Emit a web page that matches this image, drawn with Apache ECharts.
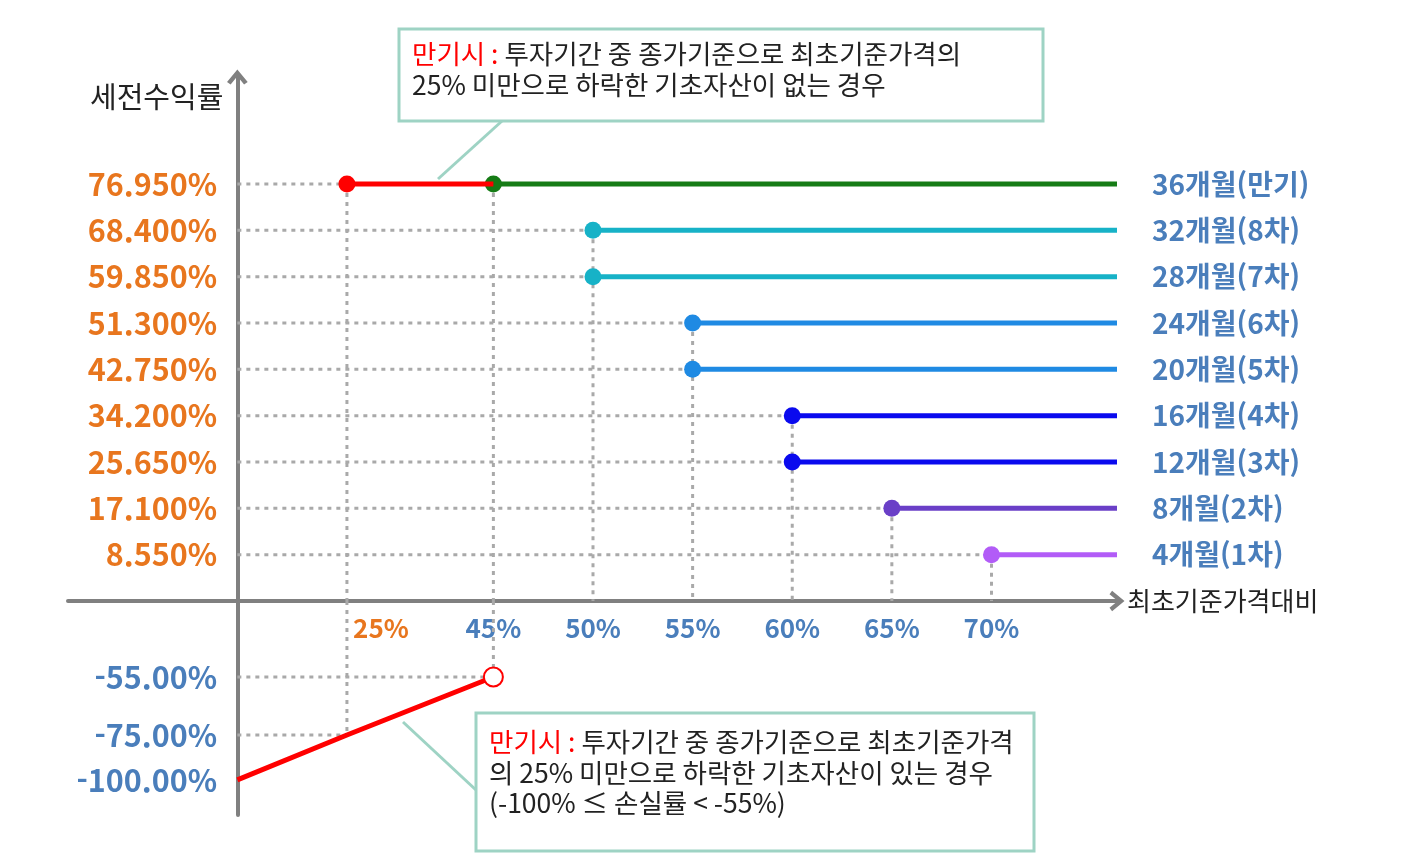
<!DOCTYPE html>
<html lang="ko">
<head>
<meta charset="UTF-8">
<title>세전수익률</title>
<style>
  html, body { margin: 0; padding: 0; background: #fff; }
  #main { width: 1408px; height: 858px; }
</style>
</head>
<body>
<div id="main"></div>
<script src="https://cdn.jsdelivr.net/npm/echarts@6.0.0/dist/echarts.min.js"></script>
<script>
// 조기상환 시점별 수익률 / 배리어
var periodNames = ['4개월(1차)', '8개월(2차)', '12개월(3차)', '16개월(4차)', '20개월(5차)',
                   '24개월(6차)', '28개월(7차)', '32개월(8차)', '36개월(만기)'];
var couponReturns = [8.55, 17.1, 25.65, 34.2, 42.75, 51.3, 59.85, 68.4, 76.95];
var earlyBarriers = [70, 65, 60, 60, 55, 55, 50, 50, 45];
var kiBarrier = 25;                                 // 만기시 낙인 배리어
var lossCurve = [[0, -100], [25, -75], [45, -55]];  // 낙인 발생 시 손실
var xTickValues = [25, 45, 50, 55, 60, 65, 70];
var xEnd = 76.3;

var lineColors = ['#b25cf7', '#6a3fc7', '#0a0aee', '#0a0aee', '#1f8ae3',
                  '#1f8ae3', '#17b2c7', '#17b2c7', '#167c16'];
var ORANGE = '#e8761e', BLUE = '#4a7ebb', GRAY = '#808080', FONT = 'Noto Sans CJK KR';
var LOWER_TOP = -28.8;

var chart = echarts.init(document.getElementById('main'));

function guide(data, grid) {
    return {
        type: 'line', xAxisIndex: grid, yAxisIndex: grid, data: data,
        symbol: 'none', silent: true, z: 1,
        lineStyle: { color: '#a9a9a9', width: 3, type: [4, 5] }
    };
}

var series = [];
var last = periodNames.length - 1;

// 수평 점선
couponReturns.forEach(function (r, i) {
    series.push(guide([[0, r], [i === last ? kiBarrier : earlyBarriers[i], r]], 0));
});
// 수직 점선 (배리어별 최고 수익률에서 0까지)
var topByBarrier = {};
earlyBarriers.forEach(function (b, i) {
    topByBarrier[b] = Math.max(topByBarrier[b] || 0, couponReturns[i]);
});
topByBarrier[kiBarrier] = couponReturns[last];
Object.keys(topByBarrier).forEach(function (b) {
    series.push(guide([[+b, topByBarrier[b]], [+b, 0]], 0));
});
// 손실 구간 점선
lossCurve.forEach(function (p) {
    if (p[0] > 0) {
        series.push(guide([[0, p[1]], [p[0], p[1]]], 1));
        series.push(guide([[p[0], LOWER_TOP], [p[0], p[1]]], 1));
    }
});

// 상환 라인
couponReturns.forEach(function (r, i) {
    var c = lineColors[i];
    series.push({
        type: 'line', xAxisIndex: 0, yAxisIndex: 0, z: 5,
        data: [[earlyBarriers[i], r], { value: [xEnd, r], symbol: 'none' }],
        symbol: 'circle', symbolSize: 17,
        lineStyle: { color: c, width: 5 },
        itemStyle: { color: c },
        endLabel: {
            show: true, distance: 35, formatter: periodNames[i],
            color: BLUE, fontSize: 28, fontWeight: 'bold', fontFamily: FONT
        }
    });
});
// 만기 낙인 미발생 구간 (25% ~ 45%)
series.push({
    type: 'line', xAxisIndex: 0, yAxisIndex: 0, z: 6,
    data: [[kiBarrier, couponReturns[last]], { value: [earlyBarriers[last], couponReturns[last]], symbol: 'none' }],
    symbol: 'circle', symbolSize: 17,
    lineStyle: { color: '#ff0000', width: 5 },
    itemStyle: { color: '#ff0000' }
});
// 낙인 발생 시 손실 라인
series.push({
    type: 'line', xAxisIndex: 1, yAxisIndex: 1, z: 6,
    data: lossCurve.map(function (p, i) {
        return i === lossCurve.length - 1 ? { value: p, symbol: 'emptyCircle' } : { value: p, symbol: 'none' };
    }),
    symbolSize: 19,
    lineStyle: { color: '#ff0000', width: 5 },
    itemStyle: { color: '#ff0000', borderWidth: 4 }
});

var arrow = 'path://M0,12 L10,0 L20,12 L16.5,14.5 L10,6.5 L3.5,14.5 Z';
var xBreaks = [{ start: 1, end: 20.5, gap: 0 }, { start: 27, end: 39.65, gap: 0 }];

function xAxisBase(show) {
    return {
        type: 'value', min: -8.5, max: xEnd, show: show,
        breaks: xBreaks,
        breakArea: { show: false },
        splitLine: { show: false },
        axisTick: { show: false }
    };
}

var xTop = xAxisBase(true);
xTop.gridIndex = 0;
xTop.axisLine = { lineStyle: { color: GRAY, width: 4 }, symbol: ['none', arrow], symbolSize: [22, 15] };
xTop.name = '최초기준가격대비';
xTop.nameLocation = 'end';
xTop.nameGap = 10;
xTop.nameTextStyle = { fontSize: 26, color: '#222', fontFamily: FONT };
xTop.axisLabel = {
    customValues: xTickValues, margin: 14,
    formatter: function (v) { return v === kiBarrier ? '{o|' + v + '%}' : '{b|' + v + '%}'; },
    rich: {
        o: { color: ORANGE, fontSize: 26, fontWeight: 'bold', fontFamily: FONT, padding: [0, 0, 0, 68] },
        b: { color: BLUE, fontSize: 26, fontWeight: 'bold', fontFamily: FONT }
    }
};
var xBottom = xAxisBase(false);
xBottom.gridIndex = 1;

// y축 레이블은 x=0 위치의 축선 왼쪽에 오도록 안쪽 정렬
var yLabelBase = { inside: true, margin: 149, align: 'right', fontSize: 30.5, fontWeight: 'bold', fontFamily: FONT };

var option = {
    animation: false,
    backgroundColor: '#fff',
    grid: [
        { left: 68, right: 291, top: 77, bottom: 257, outerBoundsMode: 'none' },
        { left: 68, right: 291, top: 601, bottom: 43, outerBoundsMode: 'none' }
    ],
    xAxis: [xTop, xBottom],
    yAxis: [
        {
            type: 'value', gridIndex: 0, min: 0, max: 96.7,
            splitLine: { show: false }, axisTick: { show: false },
            axisLine: { onZero: true, lineStyle: { color: GRAY, width: 4 }, symbol: ['none', arrow], symbolSize: [22, 15] },
            axisLabel: Object.assign({
                customValues: couponReturns, color: ORANGE,
                formatter: function (v) { return v.toFixed(3) + '%'; }
            }, yLabelBase)
        },
        {
            type: 'value', gridIndex: 1, min: -112.1, max: LOWER_TOP,
            breaks: [{ start: -96, end: -86.5, gap: 0 }],
            breakArea: { show: false },
            splitLine: { show: false }, axisTick: { show: false },
            axisLine: { onZero: true, lineStyle: { color: GRAY, width: 4 } },
            axisLabel: Object.assign({
                customValues: lossCurve.map(function (p) { return p[1]; }), color: BLUE,
                formatter: function (v) { return v.toFixed(2) + '%'; }
            }, yLabelBase)
        }
    ],
    series: series,
    graphic: [
        {
            type: 'text', left: 90, top: 82,
            style: { text: '세전수익률', fontSize: 29, fill: '#222', fontFamily: FONT }
        },
        // 상단 설명 박스
        { type: 'line', shape: { x1: 502, y1: 121, x2: 438, y2: 179 }, style: { stroke: '#9ed3c4', lineWidth: 3 }, z: 20 },
        {
            type: 'rect', shape: { x: 399, y: 29, width: 644, height: 92 },
            style: { fill: '#fff', stroke: '#9ed3c4', lineWidth: 3 }, z: 20
        },
        {
            type: 'text', x: 412, y: 38, z: 21,
            style: {
                text: '{r|만기시 :} 투자기간 중 종가기준으로 최초기준가격의\n25% 미만으로 하락한 기초자산이 없는 경우',
                fontSize: 26.5, fill: '#222', fontFamily: FONT, lineHeight: 31,
                rich: { r: { fill: '#ff0000', fontSize: 26.5, fontFamily: FONT, lineHeight: 31 } }
            }
        },
        // 하단 설명 박스
        { type: 'line', shape: { x1: 403, y1: 722, x2: 476, y2: 790 }, style: { stroke: '#9ed3c4', lineWidth: 3 }, z: 20 },
        {
            type: 'rect', shape: { x: 476, y: 713, width: 558, height: 138 },
            style: { fill: '#fff', stroke: '#9ed3c4', lineWidth: 3 }, z: 20
        },
        {
            type: 'text', x: 489, y: 727, z: 21,
            style: {
                text: '{r|만기시 :} 투자기간 중 종가기준으로 최초기준가격\n의 25% 미만으로 하락한 기초자산이 있는 경우\n(-100% ≤ 손실률 < -55%)',
                fontSize: 26.5, fill: '#222', fontFamily: FONT, lineHeight: 30.5,
                rich: { r: { fill: '#ff0000', fontSize: 26.5, fontFamily: FONT, lineHeight: 30.5 } }
            }
        }
    ]
};

chart.setOption(option);
</script>
</body>
</html>
